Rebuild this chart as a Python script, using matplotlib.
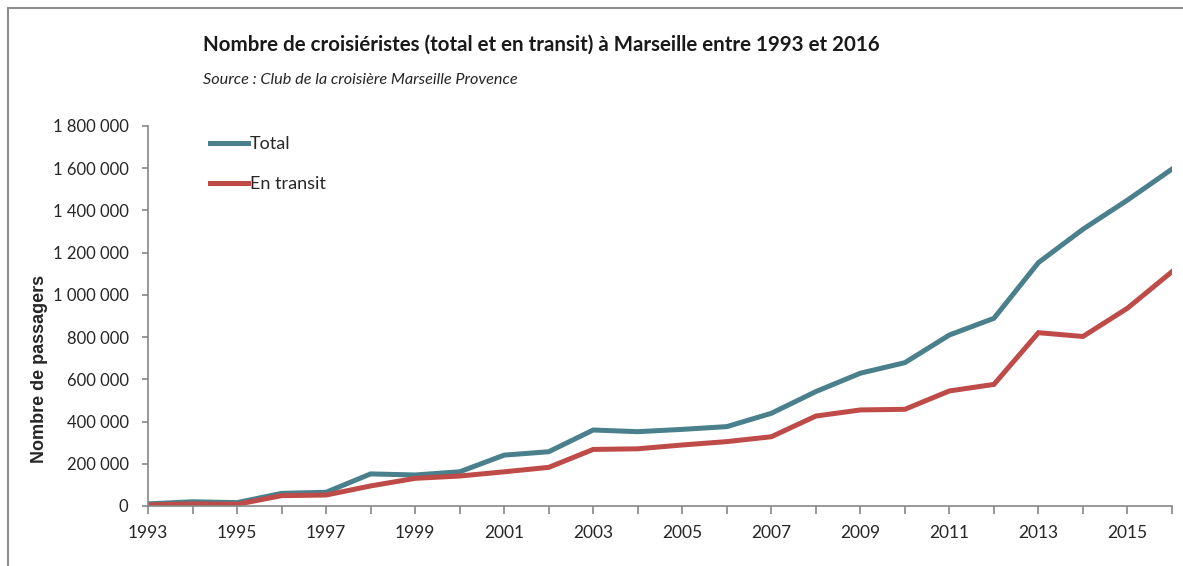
import matplotlib.pyplot as plt
from matplotlib.ticker import FuncFormatter
from matplotlib.lines import Line2D

years = list(range(1993, 2017))
total = [10000, 20000, 16000, 60000, 65000, 152000, 147000, 162000, 241000, 257000,
         360000, 352000, 363000, 376000, 439000, 542000, 629000, 679000, 810000, 889000,
         1153000, 1311000, 1449000, 1596000]
transit = [5000, 10000, 8000, 49000, 52000, 95000, 131000, 142000, 162000, 183000,
           268000, 271000, 289000, 305000, 328000, 426000, 455000, 458000, 545000, 576000,
           821000, 803000, 937000, 1110000]

col_total = "#4a7f8c"
col_transit = "#be4b48"
grey = "#868686"
txt = "#262626"

fig = plt.figure(figsize=(11.83, 5.66), dpi=100)
ax = fig.add_axes([148 / 1183, 1 - 506 / 566, (1172 - 148) / 1183, (506 - 126) / 566])

ax.plot(years, total, color=col_total, lw=3.6, label="Total", solid_joinstyle="miter")
ax.plot(years, transit, color=col_transit, lw=3.6, label="En transit", solid_joinstyle="miter")

ax.set_xlim(1993, 2016)
ax.set_ylim(0, 1800000)
ax.set_yticks(range(0, 1800001, 200000))
ax.yaxis.set_major_formatter(FuncFormatter(lambda v, p: f"{int(v):,}".replace(",", " ")))
ax.set_xticks(years)
ax.set_xticklabels([str(y) if (y - 1993) % 2 == 0 else "" for y in years])

for s in ["top", "right"]:
    ax.spines[s].set_visible(False)
for s in ["left", "bottom"]:
    ax.spines[s].set_color(grey)
    ax.spines[s].set_linewidth(1.2)
ax.tick_params(axis="y", length=4, color=grey, width=1.2, pad=10,
               labelsize=12, labelcolor=txt, labelfontfamily="Lato")
ax.tick_params(axis="x", length=6, color=grey, width=1.2, pad=8,
               labelsize=12.5, labelcolor=txt, labelfontfamily="Lato")

fig.text(40 / 1183, 1 - 369 / 566, "Nombre de passagers", rotation=90, ha="center", va="center",
         fontsize=13, fontweight="bold", family="Liberation Sans", color=txt)

fig.text(203 / 1183, 1 - 45 / 566, "Nombre de croisiéristes (total et en transit) à Marseille entre 1993 et 2016",
         fontsize=14.8, fontweight="bold", family="Lato", color="#1a1a1a", va="center")
fig.text(203 / 1183, 1 - 80 / 566, "Source : Club de la croisière Marseille Provence",
         fontsize=11.7, style="italic", family="Lato", color=txt, va="center")

handles = [Line2D([], [], color=col_total, lw=3.6), Line2D([], [], color=col_transit, lw=3.6)]
fig.legend(handles, ["Total", "En transit"], loc="upper left",
           bbox_to_anchor=(210 / 1183, 1 - 136 / 566), frameon=False, borderpad=0,
           borderaxespad=0, handlelength=2.1, handletextpad=0.1, labelspacing=1.33,
           prop={"family": "Lato", "size": 13}, labelcolor=txt)

# frame around the figure (left and top edges only)
fig.add_artist(Line2D([8 / 1183, 8 / 1183], [0, 1 - 8 / 566], color="#8c8c8c", lw=1.5))
fig.add_artist(Line2D([8 / 1183, 1], [1 - 8 / 566, 1 - 8 / 566], color="#8c8c8c", lw=1.5))

fig.savefig("out.png", dpi=100)
